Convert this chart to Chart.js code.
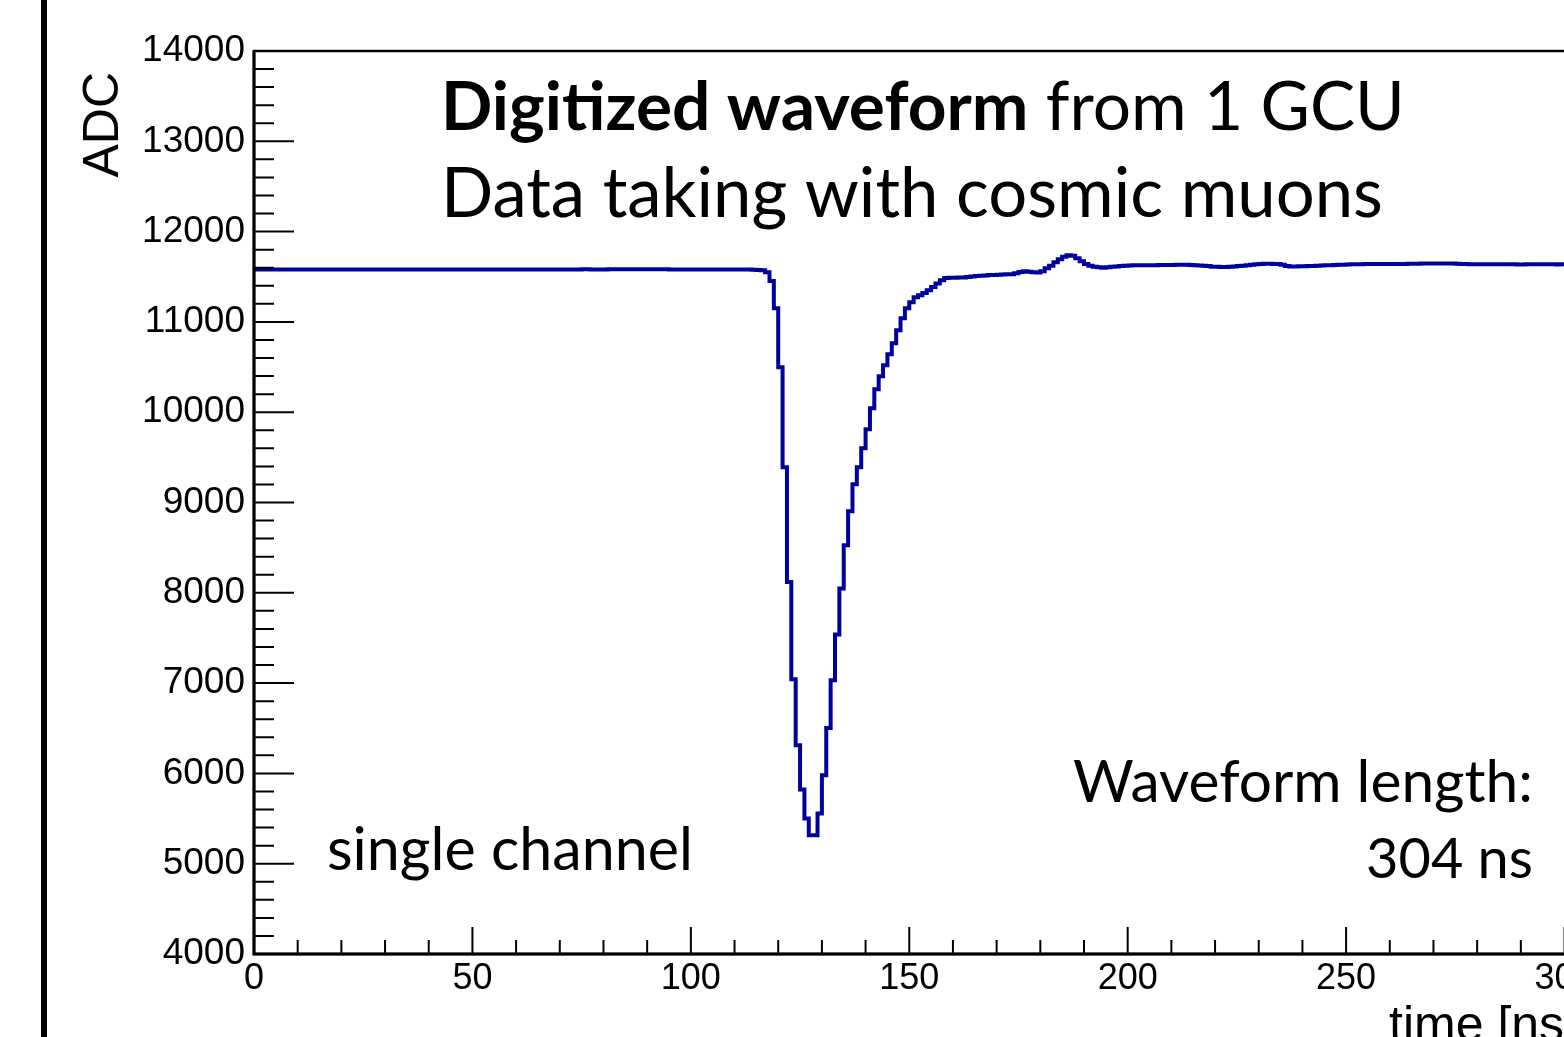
<!DOCTYPE html>
<html><head><meta charset="utf-8">
<script src="https://cdn.jsdelivr.net/npm/chart.js@4.4.1/dist/chart.umd.min.js"></script>
<style>
html,body{margin:0;padding:0;background:#fff;overflow:hidden;width:1564px;height:1037px;}
#wrap{position:relative;width:1564px;height:1037px;overflow:hidden;background:#fff;}
#bar{position:absolute;left:41px;top:0;width:6px;height:1037px;background:#000;}
canvas{position:absolute;left:0;top:0;}
</style></head><body>
<div id="wrap"><canvas id="c" width="1600" height="1037"></canvas><div id="bar"></div></div>
<script>
// ---- data (1 ns bins, ADC counts) ----
const binWidthNs = 1;
const baselineBins = [
 11580,11580,11581,11581,11580,11579,11579,11580,11580,11581,
 11581,11580,11580,11579,11580,11580,11581,11580,11580,11580,
 11579,11580,11580,11581,11581,11580,11580,11579,11580,11580,
 11580,11581,11580,11580,11580,11579,11580,11581,11581,11580,
 11580,11580,11579,11580,11580,11581,11580,11580,11580,11581,
 11581,11580,11579,11580,11580,11580,11581,11580,11580,11579,
 11580,11580,11581,11581,11580,11580,11580,11579,11580,11580,
 11581,11580,11580,11580,11581,11582,11582,11581,11580,11580,
 11581,11582,11582,11583,11583,11582,11582,11583,11584,11584,
 11584,11583,11582,11582,11582,11581,11581,11580,11580,11580,
 11580,11581,11581,11581,11580,11580,11580,11580,11580,11580,
 11580,11580,11579,11579,11578,11576,11571
];
const pulseBins = [
 11550,11453,11151,10497,9390,8120,7042,6311,5821,5500,
 5315,5315,5555,5979,6503,7031,7537,8047,8526,8903,
 9202,9390,9600,9811,10043,10254,10398,10519,10641,10763,
 10907,11040,11151,11217,11272,11294,11320,11350,11387,11424,
 11461,11486,11490,11490,11491,11492,11497,11503,11508,11512,
 11515,11518,11520,11522,11525,11527,11529,11538,11552,11560,
 11555,11550,11548,11560,11594,11621,11660,11693,11721,11738,
 11732,11704,11671,11640,11622,11610,11604,11601,11605,11610,
 11614,11618,11621
];
const tailBins = [
 11625,11626,11627,11627,11628,11628,11628,11629,11630,11630,11631,
 11632,11632,11632,11630,11628,
 11624,11621,11618,
 11612,11610,11609,11609,11610,11613,
 11618,11622,11627,11632,
 11638,11641,11643,11643,11642,11640,11632,
 11620,11614,11613,
 11615,11616,11618,11620,11623,
 11625,11627,11628,11630,11632,
 11634,11636,11638,11638,11639,11640,
 11640,11640,11641,11640,11640,11641,11641,11642,11642,11643,11644,
 11645,11646,11647,11648,11648,11648,11648,11647,11646,11645,
 11642,11640,11639,11638,11638,11638,11638,
 11638,11638,11639,11639,11638,11638,11637,11637,11638,11638,11639,11639,11638,11638,11638,11637,11638,11638,11638,11638,11638
];
const adcValues = baselineBins.concat(pulseBins, tailBins);
const xRange = [0, 304];
const yRange = [4000, 14000];
const xTickLabels = [0, 50, 100, 150, 200, 250, 300];
const yTickLabels = [4000, 5000, 6000, 7000, 8000, 9000, 10000, 11000, 12000, 13000, 14000];
const titleBold = 'Digitized waveform';
const titleRest = ' from 1 GCU';
const subTitle = 'Data taking with cosmic muons';
const channelText = 'single channel';
const lengthText1 = 'Waveform length:';
const lengthText2 = '304 ns';
const yTitle = 'ADC';
const xTitle = 'time [ns]';

// histogram points at bin low edges (value holds until next edge)
const points = adcValues.map((v, i) => ({x: i * binWidthNs, y: v}));
points.push({x: adcValues.length * binWidthNs, y: adcValues[adcValues.length - 1]});

const TXT = 'Lato, "Liberation Sans", sans-serif';
const AX = '"Liberation Sans", Arial, Helvetica, sans-serif';

function fitSize(ctx, parts, target) {
  let w = 0;
  parts.forEach(p => { ctx.font = `${p.w} 100px ${TXT}`; w += ctx.measureText(p.t).width; });
  return 100 * target / w;
}

const decor = {
  id: 'decor',
  afterDraw(chart) {
    const {ctx, chartArea: a, scales: {x, y}} = chart;
    ctx.save();
    ctx.strokeStyle = '#000';
    ctx.lineCap = 'butt';
    ctx.lineWidth = 2;
    ctx.beginPath();
    for (let v = xRange[0]; v <= xRange[1]; v += 10) {
      const px = x.getPixelForValue(v);
      const len = (v % 50 === 0) ? 27 : 14;
      ctx.moveTo(px, a.bottom); ctx.lineTo(px, a.bottom - len);
    }
    for (let v = yRange[0]; v <= yRange[1]; v += 200) {
      const py = y.getPixelForValue(v);
      const len = (v % 1000 === 0) ? 40 : 20;
      ctx.moveTo(a.left, py); ctx.lineTo(a.left + len, py);
    }
    ctx.stroke();
    ctx.lineWidth = 2.5;
    ctx.strokeRect(a.left, a.top, a.right - a.left, a.bottom - a.top);
    ctx.lineWidth = 3;
    ctx.beginPath();
    ctx.moveTo(a.left, a.top); ctx.lineTo(a.left, a.bottom); ctx.lineTo(a.right, a.bottom);
    ctx.stroke();

    ctx.fillStyle = '#000';
    ctx.font = `50px ${AX}`;
    ctx.textBaseline = 'alphabetic';
    ctx.textAlign = 'right';
    ctx.fillText(xTitle, a.right - 4, 1041);
    ctx.save();
    ctx.translate(118, a.top + 21);
    ctx.rotate(-Math.PI / 2);
    ctx.textAlign = 'right';
    ctx.fillText(yTitle, 0, 0);
    ctx.restore();

    ctx.textAlign = 'left';
    let s = fitSize(ctx, [{t: titleBold, w: 700}, {t: titleRest, w: 400}], 964);
    ctx.font = `700 ${s}px ${TXT}`;
    ctx.fillText(titleBold, 441, 130);
    const wb = ctx.measureText(titleBold).width;
    ctx.font = `400 ${s}px ${TXT}`;
    ctx.fillText(titleRest, 441 + wb, 130);

    s = fitSize(ctx, [{t: subTitle, w: 400}], 942);
    ctx.font = `400 ${s}px ${TXT}`;
    ctx.fillText(subTitle, 441, 217);

    s = fitSize(ctx, [{t: channelText, w: 400}], 366);
    ctx.font = `400 ${s}px ${TXT}`;
    ctx.fillText(channelText, 327, 870);

    ctx.textAlign = 'right';
    s = fitSize(ctx, [{t: lengthText1, w: 400}], 460);
    ctx.font = `400 ${s}px ${TXT}`;
    ctx.fillText(lengthText1, 1533, 802);
    s = fitSize(ctx, [{t: lengthText2, w: 400}], 167);
    ctx.font = `400 ${s}px ${TXT}`;
    ctx.fillText(lengthText2, 1533, 878);
    ctx.restore();
  }
};

new Chart(document.getElementById('c'), {
  type: 'line',
  data: {
    datasets: [{
      data: points,
      stepped: 'before',
      borderColor: '#00009e',
      borderWidth: 4,
      pointRadius: 0,
      fill: false,
      tension: 0
    }]
  },
  options: {
    responsive: false,
    animation: false,
    events: [],
    layout: {padding: {top: 51, right: 18, bottom: 0, left: 0}},
    plugins: {legend: {display: false}, tooltip: {enabled: false}, title: {display: false}},
    scales: {
      x: {
        type: 'linear', min: xRange[0], max: xRange[1],
        afterFit(sc) { sc.height = 83; },
        afterBuildTicks(sc) { sc.ticks = xTickLabels.map(v => ({value: v})); },
        grid: {display: false, drawTicks: false, tickLength: 0},
        border: {display: false},
        ticks: {font: {family: AX, size: 36}, color: '#000', padding: 3, maxRotation: 0, autoSkip: false, callback: v => String(v)}
      },
      y: {
        type: 'linear', min: yRange[0], max: yRange[1],
        afterFit(sc) { sc.width = 254; },
        afterBuildTicks(sc) { sc.ticks = yTickLabels.map(v => ({value: v})); },
        grid: {display: false, drawTicks: false, tickLength: 0},
        border: {display: false},
        ticks: {font: {family: AX, size: 37}, color: '#000', padding: 9, autoSkip: false, callback: v => String(v)}
      }
    }
  },
  plugins: [decor]
});
</script>
</body></html>
